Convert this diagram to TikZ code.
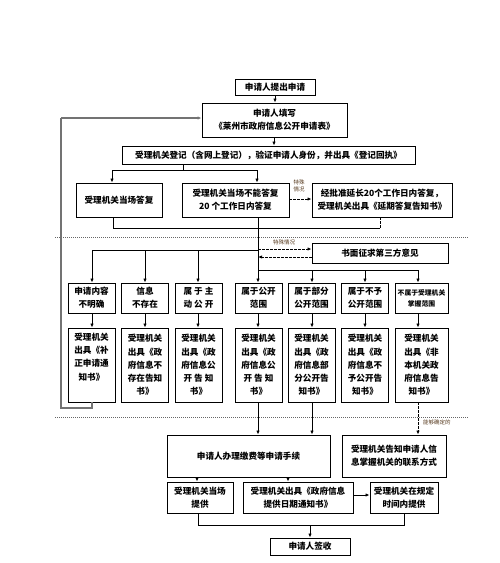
\documentclass[tikz,border=0pt]{standalone}
\usepackage{fontspec}
\setmainfont{Noto Sans CJK SC}
\usetikzlibrary{arrows.meta}
\tikzset{
  box/.style={draw=black, line width=0.9pt, inner sep=0pt, align=center,
    font=\fontsize{8.6}{13.3}\selectfont\bfseries},
  conn/.style={line width=0.8pt, draw=black},
  arr/.style={conn, -{Latex[length=4pt,width=3.4pt]}},
  darr/.style={arr, dashed, dash pattern=on 2.5pt off 1.5pt},
  dline/.style={conn, dashed, dash pattern=on 2.5pt off 1.5pt},
  sep/.style={draw=black!60, line width=0.7pt, dash pattern=on 1pt off 1pt},
  loopl/.style={draw=black!55, line width=1.2pt},
  note/.style={font=\fontsize{5.5}{6.5}\selectfont, text=black!55!brown, align=center, inner sep=0pt},
}
\begin{document}
\begin{tikzpicture}[x=1pt,y=-1pt]
\useasboundingbox (0,0) rectangle (500,563);
% separators
\draw[sep] (55,237) -- (468,237);
\draw[sep] (55,417) -- (468,417);
% top
\node[box, minimum width=80pt, minimum height=16pt] (n1) at (275,87) {申请人提出申请};
\node[box, minimum width=145pt, minimum height=34pt] (n2) at (274.5,120) {申请人填写\\《莱州市政府信息公开申请表》};
\node[box, minimum width=293pt, minimum height=18pt] (n3) at (268.5,155) {受理机关登记（含网上登记），验证申请人身份，并出具《登记回执》};
% row 2
\node[box, minimum width=86pt, minimum height=34pt] (a) at (119,200) {受理机关当场答复};
\node[box, minimum width=107pt, minimum height=34pt] (b) at (235.5,200) {受理机关当场不能答复\\20 个工作日内答复};
\node[box, minimum width=140pt, minimum height=34pt] (c) at (382,200) {经批准延长20个工作日内答复，\\受理机关出具《延期答复告知书》};
\node[box, minimum width=136pt, minimum height=20pt] (sf) at (380,253) {书面征求第三方意见};
% row 3
\node[box, minimum width=47pt, minimum height=30pt] (r3a) at (91.5,298) {申请内容\\不明确};
\node[box, minimum width=47pt, minimum height=30pt] (r3b) at (145,298) {信息\\不存在};
\node[box, minimum width=47pt, minimum height=30pt] (r3c) at (198.5,298) {属 于 主\\动 公 开};
\node[box, minimum width=47pt, minimum height=30pt] (r3d) at (258.5,298) {属于公开\\范围};
\node[box, minimum width=47pt, minimum height=30pt] (r3e) at (311.5,298) {属于部分\\公开范围};
\node[box, minimum width=47pt, minimum height=30pt] (r3f) at (365,298) {属于不予\\公开范围};
\node[box, minimum width=53pt, minimum height=30pt, font=\fontsize{6.8}{11}\selectfont\bfseries] (r3g) at (421.5,298) {不属于受理机关\\掌握范围};
% row 4
\node[box, minimum width=47pt, minimum height=74pt] (r4a) at (91.5,365) {受理机关\\出具《补\\正申请通\\知书》\\\strut};
\node[box, minimum width=47pt, minimum height=74pt] (r4b) at (145,365) {受理机关\\出具《政\\府信息不\\存在告知\\书》};
\node[box, minimum width=47pt, minimum height=74pt] (r4c) at (198.5,365) {受理机关\\出具《政\\府信息公\\开 告 知\\书》};
\node[box, minimum width=47pt, minimum height=74pt] (r4d) at (258.5,365) {受理机关\\出具《政\\府信息公\\开 告 知\\书》};
\node[box, minimum width=47pt, minimum height=74pt] (r4e) at (311.5,365) {受理机关\\出具《政\\府信息部\\分公开告\\知书》};
\node[box, minimum width=47pt, minimum height=74pt] (r4f) at (365,365) {受理机关\\出具《政\\府信息不\\予公开告\\知书》};
\node[box, minimum width=53pt, minimum height=74pt] (r4g) at (421.5,365) {受理机关\\出具《非\\本机关政\\府信息告\\知书》};
% row 5
\node[box, minimum width=163pt, minimum height=42pt] (p1) at (248.5,456) {申请人办理缴费等申请手续};
\node[box, minimum width=104pt, minimum height=42pt] (p2) at (394,456) {受理机关告知申请人信\\息掌握机关的联系方式};
% row 6
\node[box, minimum width=66pt, minimum height=31pt] (q1) at (200,497.5) {受理机关当场\\提供};
\node[box, minimum width=110pt, minimum height=31pt] (q2) at (298,497.5) {受理机关出具《政府信息\\提供日期通知书》};
\node[box, minimum width=68pt, minimum height=31pt] (q3) at (404,497.5) {受理机关在规定\\时间内提供};
\node[box, minimum width=80pt, minimum height=17pt] (s) at (310,546.5) {申请人签收};
% junction coordinates
\coordinate (j3) at (183,170);
\coordinate (ja) at (112,170);
\coordinate (jb) at (257,170);
\coordinate (k1) at (113,228);
\coordinate (k2) at (380,228);
\coordinate (lb) at (258,250);
\coordinate (rb) at (258,270);
\coordinate (la) at (92,250);
\coordinate (lc) at (198,250);
\coordinate (lm) at (145,250);
\coordinate (re) at (312,270);
\coordinate (rf) at (365,270);
\coordinate (rg) at (418,270);
\coordinate (d1) at (258,249);
\coordinate (d2) at (258,257);
\coordinate (lp1) at (92,408);
\coordinate (lp2) at (61,408);
\coordinate (lp3) at (61,118);
\coordinate (m1) at (198,525);
\coordinate (m2) at (404,525);
\coordinate (m3) at (310,525);
% top connectors
\draw[arr] (n1.south -| 275,0) -- (n2.north -| 275,0);
\draw[arr] (n2.south -| 274,0) -- (n3.north -| 274,0);
\draw[conn] (n3.south -| j3) -- (j3);
\draw[conn] (ja) -- (jb);
\draw[arr] (ja) -- (a.north -| ja);
\draw[arr] (jb) -- (b.north -| jb);
% row 2 connectors
\draw[darr] (b.east |- 0,199) -- (c.west |- 0,199);
\node[note] (t1) at (299,186) {特殊\\情况};
\draw[conn] (a.south -| k1) -- (k1) -- (k2);
\draw[dline] (c.south -| k2) -- (k2);
\draw[conn] (b.south -| rb) -- (rb);
\draw[conn] (la) -- (lb);
\draw[conn] (rb) -- (rg);
\draw[arr] (la) -- (r3a.north -| la);
\draw[arr] (lm) -- (r3b.north -| lm);
\draw[arr] (lc) -- (r3c.north -| lc);
\draw[arr] (rb) -- (r3d.north -| rb);
\draw[arr] (re) -- (r3e.north -| re);
\draw[arr] (rf) -- (r3f.north -| rf);
\draw[arr] (rg) -- (r3g.north -| rg);
% third party
\draw[darr] (d1) -- (sf.west |- d1);
\draw[darr] (sf.west |- d2) -- (d2);
\node[note] (t2) at (284,242) {特殊情况};
% row 3 -> row 4
\draw[arr] (r3a.south -| la) -- (r4a.north -| la);
\draw[arr] (r3b.south -| lm) -- (r4b.north -| lm);
\draw[arr] (r3c.south -| lc) -- (r4c.north -| lc);
\draw[arr] (r3d.south -| rb) -- (r4d.north -| rb);
\draw[arr] (r3e.south -| re) -- (r4e.north -| re);
\draw[arr] (r3f.south -| rf) -- (r4f.north -| rf);
\draw[arr] (r3g.south -| rg) -- (r4g.north -| rg);
% loop back
\draw[loopl] (r4a.south -| lp1) -- (lp1) -- (lp2) -- (lp3);
\draw[loopl, -{Latex[length=4pt,width=3.4pt]}] (lp3) -- (n2.west |- lp3);
% row 4 -> row 5
\draw[arr] (r4d.south -| rb) -- (p1.north -| rb);
\draw[arr] (r4e.south -| re) -- (p1.north -| re);
\draw[darr] (r4g.south -| rg) -- (p2.north -| rg);
\node[note, anchor=west] (t3) at (423,422) {能够确定的};
% row 5 -> row 6
\draw[arr] (p1.south -| 197,0) -- (q1.north -| 197,0);
\draw[arr] (p1.south -| 288,0) -- (q2.north -| 288,0);
\draw[arr] (q2.east |- 0,495) -- (q3.west |- 0,495);
\draw[conn] (q1.south -| m1) -- (m1) -- (m2) -- (q3.south -| m2);
\draw[arr] (m3) -- (s.north -| m3);
\end{tikzpicture}
\end{document}
